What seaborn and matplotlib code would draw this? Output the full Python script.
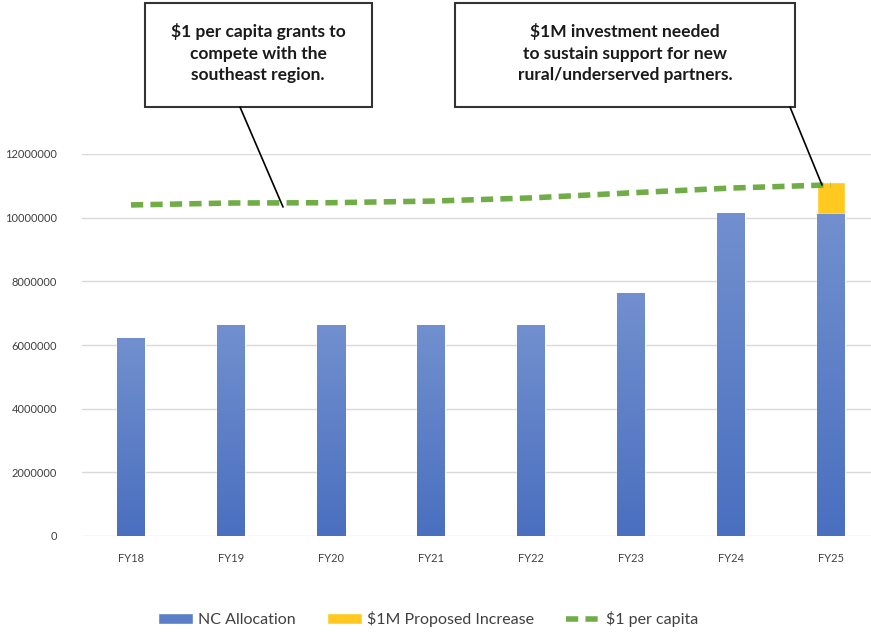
import matplotlib
matplotlib.use("Agg")
import matplotlib.pyplot as plt
import matplotlib.colors as mcolors
import seaborn as sns
import pandas as pd
import numpy as np

years = ["FY18", "FY19", "FY20", "FY21", "FY22", "FY23", "FY24", "FY25"]
nc_allocation = [6220000, 6630000, 6630000, 6630000, 6630000, 7630000, 10150000, 10100000]
proposed_increase = [0, 0, 0, 0, 0, 0, 0, 1020000]
per_capita = [10400000, 10460000, 10470000, 10520000, 10620000, 10780000, 10930000, 11030000]
yticks = [0, 2000000, 4000000, 6000000, 8000000, 10000000, 12000000]

sns.set_theme(style="white")
plt.rcParams['font.family'] = ['Lato', 'DejaVu Sans']

df = pd.DataFrame({"year": years, "nc": nc_allocation, "inc": proposed_increase, "cap": per_capita})

fig = plt.figure(figsize=(8.71, 6.35), dpi=100)
ax = fig.add_axes([82/871, 1-536/635, 800/871, (536-154)/635])

sns.barplot(data=df, x="year", y="nc", color="#5B7FC7", saturation=1, width=0.28, ax=ax,
            label="NC Allocation", zorder=2)
n_blue = len(ax.patches)
sns.barplot(data=df, x="year", y="inc", color="#FFC91F", saturation=1, width=0.28, ax=ax,
            bottom=df["nc"], label="$1M Proposed Increase", zorder=2)
sns.lineplot(data=df, x="year", y="cap", color="#70AD47", lw=4, ls=(0, (2.2, 1.3)), ax=ax,
             label="$1 per capita", zorder=3)

ax.set_ylim(0, 12000000)
ax.set_xlim(-0.49, 7.51)

# vertical gradient on blue bars (darker at bottom, lighter at top)
cmap = mcolors.LinearSegmentedColormap.from_list("g", ["#4A6FBF", "#7290CF"])
grad = np.linspace(0, 1, 256).reshape(-1, 1)
for p in ax.patches[:n_blue]:
    x0, y0 = p.get_x(), p.get_y()
    w, h = p.get_width(), p.get_height()
    im = ax.imshow(grad, cmap=cmap, origin="lower", aspect="auto",
                   extent=(x0, x0 + w, y0, y0 + h), zorder=2.1)
    im.set_clip_path(p)
ax.set_xlim(-0.49, 7.51)
ax.set_ylim(0, 12000000)

ax.set_yticks(yticks)
ax.set_yticklabels([str(v) for v in yticks], fontsize=8, color="#404040")
ax.set_xticks(range(len(years)))
ax.set_xticklabels(years, fontsize=8, color="#404040")
ax.tick_params(axis='x', length=0, pad=12)
ax.tick_params(axis='y', length=0, pad=18)
ax.grid(axis='y', color="#D9D9D9", lw=1, zorder=0)
ax.set_axisbelow(True)
for s in ax.spines.values():
    s.set_visible(False)
ax.set_xlabel("")
ax.set_ylabel("")

handles, labels = ax.get_legend_handles_labels()
order = [labels.index("NC Allocation"), labels.index("$1M Proposed Increase"), labels.index("$1 per capita")]
ax.legend([handles[i] for i in order], [labels[i] for i in order],
          loc="upper center", bbox_to_anchor=((428 - 82) / 800, -0.16), ncol=3, frameon=False,
          fontsize=11.5, handlelength=2.2, columnspacing=2.0, handletextpad=0.3,
          labelcolor="#404040")

# box 1
fig.patches.append(plt.Rectangle((145/871, 1-107/635), (372-145)/871, (107-3)/635,
                                 transform=fig.transFigure, fill=True, fc="white", ec="#333333", lw=1.5))
fig.text(258/871, 1-53/635, "$1 per capita grants to\ncompete with the\nsoutheast region.",
         ha="center", va="center", fontsize=12.5, fontweight="bold", color="#1a1a1a", linespacing=1.45)
fig.add_artist(plt.Line2D([240/871, 283/871], [1-107/635, 1-207/635], color="black", lw=1.2))

# box 2
fig.patches.append(plt.Rectangle((455/871, 1-107/635), (795-455)/871, (107-3)/635,
                                 transform=fig.transFigure, fill=True, fc="white", ec="#333333", lw=1.5))
fig.text(625/871, 1-53/635, "$1M investment needed\nto sustain support for new\nrural/underserved partners.",
         ha="center", va="center", fontsize=12.5, fontweight="bold", color="#1a1a1a", linespacing=1.45)
fig.add_artist(plt.Line2D([790/871, 822/871], [1-107/635, 1-185/635], color="black", lw=1.2))

fig.savefig("out.png", dpi=100)
